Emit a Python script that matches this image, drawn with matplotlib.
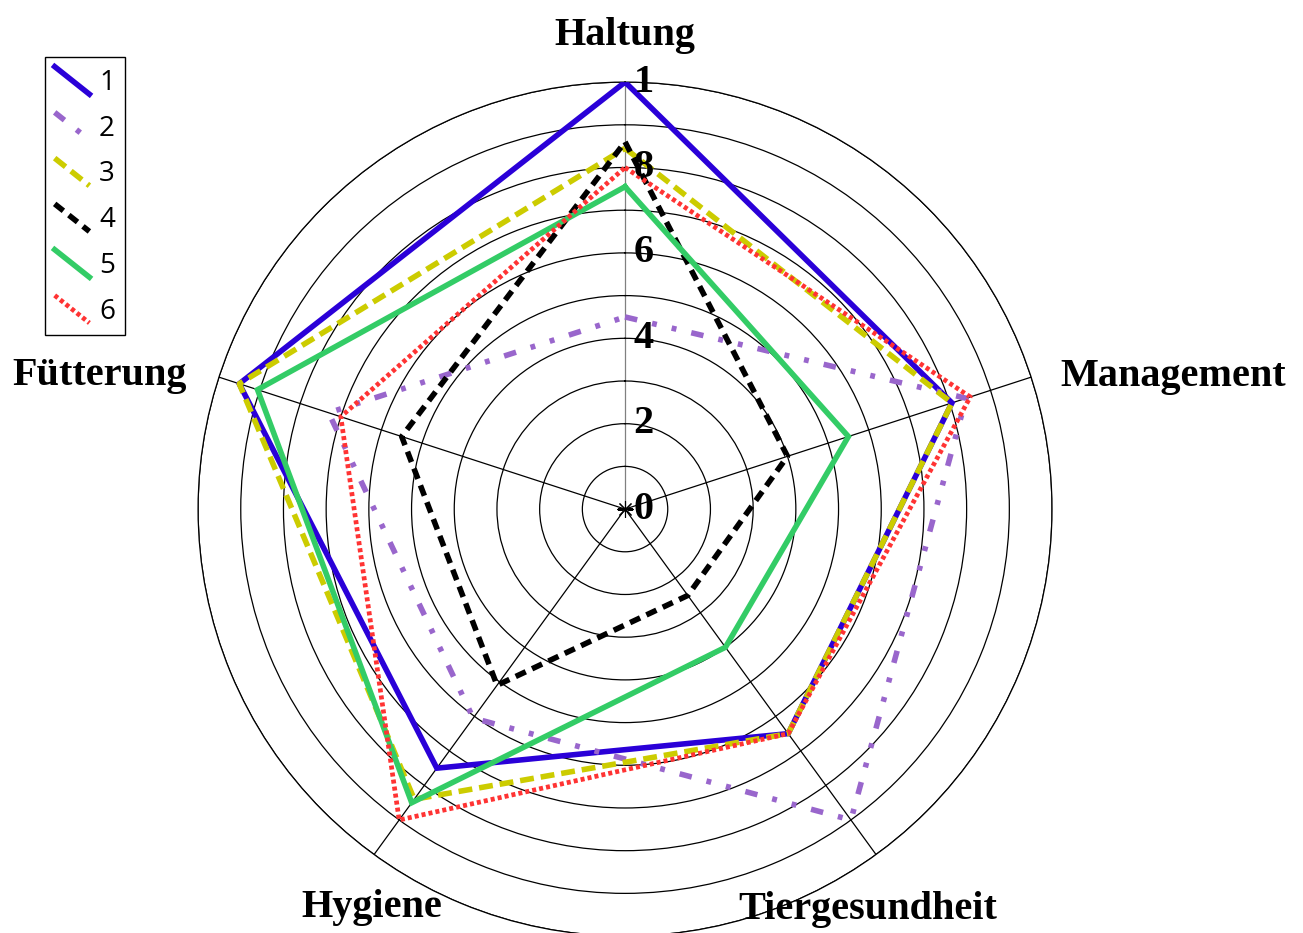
import numpy as np
import matplotlib
matplotlib.use('Agg')
import matplotlib.pyplot as plt
from matplotlib.legend_handler import HandlerLine2D
from matplotlib.lines import Line2D

plt.rcParams['lines.scale_dashes'] = False

###############################################

categories = ['Haltung', 'Management', 'Tiergesundheit', 'Hygiene', 'Fütterung']
names = ['1', '2', '3', '4', '5', '6']
s1 = [10.0, 8.05, 6.5, 7.5, 9.5]
s2 = [4.5, 8.4, 9.0, 6.05, 7.3]
s3 = [8.45, 8.05, 6.5, 8.4, 9.5]
s4 = [8.6, 4.0, 2.5, 5.1, 5.5]
s5 = [7.55, 5.5, 4.0, 8.5, 9.05]
s6 = [8.0, 8.5, 6.5, 9.0, 7.0]
r_ticks = [0, 2, 4, 6, 8, 10]
r_labels = ['0', '2', '4', '6', '8', '1']

###############################################

colors = ['#2a00d8', '#9966cc', '#cccc00', '#000000', '#33cc66', '#ff3333']
styles = ['-', (0, (9, 11, 3.5, 11, 3.5, 11)), (0, (10, 5)), (0, (8, 5)),
          '-', (0, (2.9, 2.2))]
widths = [4.0, 4.0, 4.0, 4.0, 4.0, 3.4]


class DiagonalHandler(HandlerLine2D):
    def create_artists(self, legend, orig_handle, xdescent, ydescent,
                       width, height, fontsize, trans):
        line = Line2D([-xdescent, -xdescent + width],
                      [-ydescent + height, -ydescent])
        self.update_prop(line, orig_handle, legend)
        line.set_transform(trans)
        return [line]


fig = plt.figure(figsize=(13.03, 9.33), dpi=100)
ax = fig.add_axes([0.152, -0.0033, 0.6554, 0.9153], projection='polar')
ax.set_theta_offset(np.pi / 2)
ax.set_theta_direction(-1)

angles = np.arange(len(categories)) * 2 * np.pi / len(categories)
closed = np.append(angles, angles[0])

series = [s1, s2, s3, s4, s5, s6]
handles = []
for i in range(len(series)):
    vals = np.append(series[i], series[i][0])
    ln, = ax.plot(closed, vals, color=colors[i], linestyle=styles[i],
                  lw=widths[i], label=names[i], dash_capstyle='butt',
                  solid_joinstyle='miter', zorder=3)
    handles.append(ln)

ax.set_ylim(0, 10)
ax.set_yticks(np.arange(1, 11))
ax.set_yticklabels([])
ax.set_xticks(angles)
ax.set_xticklabels([])
ax.grid(True, color='black', lw=0.9)
ax.xaxis.get_gridlines()[0].set_color('gray')
ax.spines['polar'].set_color('black')
ax.spines['polar'].set_linewidth(0.9)
ax.plot(0, 0, marker=(8, 2, 0), ms=12, color='black', mew=0.8, zorder=2)

serif = dict(family='Liberation Serif', fontweight='bold', fontsize=29)
for v, t in zip(r_ticks, r_labels):
    ax.annotate(t, xy=(0, v), xytext=(6, 0), textcoords='offset points',
                ha='left', va='center', annotation_clip=False, zorder=4, **serif)

label_pos = [(90, 11.1, 'center'), (16.9, 10.65, 'left'), (-58.8, 10.95, 'center'),
             (-122.4, 11.05, 'center'), (163, 10.74, 'right')]
for name, (a, r, ha) in zip(categories, label_pos):
    th = np.deg2rad(90 - a)
    ax.text(th, r, name, ha=ha, va='center', clip_on=False, **serif)

leg = fig.legend(handles=handles, loc='upper left',
                 bbox_to_anchor=(0.0345, 0.939), borderaxespad=0,
                 handler_map={Line2D: DiagonalHandler()},
                 prop={'family': 'Open Sans', 'size': 20},
                 handlelength=1.25, handleheight=1.15, handletextpad=0.35,
                 labelspacing=0.56, borderpad=0.35, fancybox=False,
                 edgecolor='black', framealpha=1)
leg.get_frame().set_linewidth(1.0)

fig.savefig('out.png', dpi=100)
